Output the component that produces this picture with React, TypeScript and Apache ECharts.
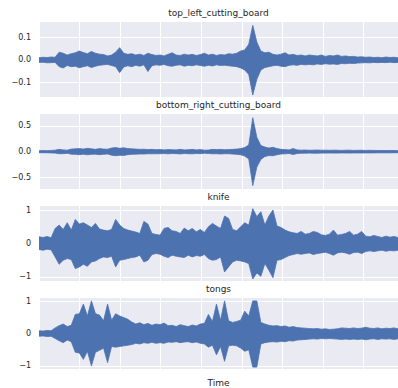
import React, { useEffect, useRef } from "react";
import * as echarts from "echarts";

const titles = ["top_left_cutting_board", "bottom_right_cutting_board", "knife", "tongs"];
const xLabel = "Time";

// envelope of each waveform (upper / lower peaks per ~4px column)
const tlcbUpper = [0.010,0.012,0.011,0.013,0.012,0.035,0.030,0.022,0.028,0.032,0.040,0.033,0.028,0.038,0.030,0.026,0.024,0.018,0.022,0.035,0.055,0.030,0.025,0.028,0.022,0.026,0.020,0.030,0.024,0.020,0.022,0.018,0.025,0.032,0.022,0.020,0.026,0.022,0.025,0.020,0.024,0.030,0.022,0.026,0.020,0.024,0.022,0.028,0.026,0.030,0.040,0.045,0.070,0.155,0.080,0.040,0.032,0.035,0.025,0.022,0.026,0.032,0.022,0.025,0.020,0.022,0.018,0.022,0.020,0.018,0.022,0.016,0.020,0.018,0.022,0.016,0.018,0.015,0.016,0.013,0.014,0.012,0.013,0.011,0.012,0.010,0.013,0.011,0.012,0.010];
const tlcbLower = [-0.011,-0.010,-0.013,-0.012,-0.011,-0.030,-0.036,-0.025,-0.030,-0.028,-0.035,-0.030,-0.026,-0.034,-0.028,-0.024,-0.022,-0.020,-0.025,-0.030,-0.057,-0.032,-0.026,-0.030,-0.024,-0.028,-0.022,-0.052,-0.026,-0.022,-0.024,-0.020,-0.026,-0.028,-0.024,-0.022,-0.028,-0.024,-0.026,-0.022,-0.025,-0.028,-0.024,-0.027,-0.022,-0.025,-0.024,-0.026,-0.028,-0.030,-0.036,-0.045,-0.065,-0.157,-0.087,-0.045,-0.034,-0.030,-0.026,-0.024,-0.028,-0.030,-0.024,-0.022,-0.024,-0.020,-0.022,-0.020,-0.022,-0.018,-0.020,-0.017,-0.019,-0.018,-0.020,-0.016,-0.017,-0.015,-0.016,-0.014,-0.013,-0.012,-0.013,-0.011,-0.012,-0.011,-0.012,-0.010,-0.012,-0.011];

const brcbUpper = [0.020,0.022,0.020,0.025,0.030,0.045,0.035,0.030,0.050,0.055,0.060,0.050,0.065,0.055,0.045,0.060,0.050,0.048,0.070,0.080,0.065,0.075,0.060,0.055,0.050,0.045,0.048,0.040,0.045,0.038,0.042,0.035,0.040,0.038,0.035,0.045,0.035,0.038,0.045,0.035,0.040,0.030,0.032,0.045,0.040,0.045,0.038,0.042,0.045,0.050,0.060,0.080,0.130,0.660,0.280,0.120,0.090,0.070,0.085,0.060,0.045,0.040,0.035,0.060,0.035,0.030,0.032,0.028,0.030,0.032,0.028,0.030,0.026,0.030,0.028,0.025,0.028,0.030,0.025,0.026,0.028,0.024,0.026,0.025,0.022,0.024,0.022,0.024,0.022,0.020];
const brcbLower = [-0.020,-0.020,-0.022,-0.024,-0.028,-0.040,-0.038,-0.032,-0.048,-0.052,-0.058,-0.048,-0.060,-0.052,-0.048,-0.058,-0.050,-0.045,-0.068,-0.078,-0.070,-0.072,-0.058,-0.052,-0.048,-0.045,-0.046,-0.040,-0.042,-0.040,-0.040,-0.036,-0.042,-0.036,-0.038,-0.044,-0.036,-0.040,-0.042,-0.036,-0.038,-0.030,-0.034,-0.042,-0.040,-0.044,-0.040,-0.040,-0.046,-0.052,-0.060,-0.085,-0.140,-0.660,-0.300,-0.150,-0.095,-0.075,-0.080,-0.060,-0.045,-0.042,-0.036,-0.055,-0.036,-0.030,-0.030,-0.028,-0.030,-0.030,-0.028,-0.028,-0.026,-0.028,-0.028,-0.025,-0.026,-0.028,-0.025,-0.025,-0.026,-0.024,-0.025,-0.024,-0.022,-0.023,-0.022,-0.023,-0.021,-0.020];

const knifeUpper = [0.20,0.18,0.21,0.17,0.45,0.55,0.42,0.62,0.40,0.72,0.58,0.62,0.55,0.48,0.60,0.43,0.40,0.38,0.42,0.72,0.55,0.45,0.40,0.37,0.34,0.30,0.66,0.58,0.30,0.27,0.25,0.45,0.48,0.38,0.36,0.30,0.46,0.38,0.45,0.35,0.42,0.33,0.50,0.60,0.52,0.45,0.82,0.75,0.42,0.38,0.50,0.62,0.55,1.04,0.80,0.95,0.55,0.82,1.00,0.52,0.48,0.40,0.35,0.32,0.30,0.36,0.28,0.30,0.36,0.33,0.26,0.24,0.28,0.40,0.25,0.27,0.30,0.36,0.25,0.28,0.36,0.22,0.20,0.24,0.21,0.18,0.22,0.19,0.21,0.18];
const knifeLower = [-0.18,-0.20,-0.17,-0.19,-0.40,-0.62,-0.50,-0.45,-0.48,-0.75,-0.70,-0.62,-0.68,-0.55,-0.52,-0.45,-0.40,-0.42,-0.38,-0.70,-0.50,-0.48,-0.45,-0.42,-0.40,-0.35,-0.55,-0.50,-0.33,-0.30,-0.32,-0.38,-0.42,-0.35,-0.38,-0.40,-0.42,-0.35,-0.40,-0.36,-0.38,-0.33,-0.45,-0.50,-0.48,-0.40,-0.85,-0.70,-0.55,-0.50,-0.52,-0.55,-0.60,-1.06,-0.88,-0.98,-0.60,-0.80,-1.02,-0.50,-0.48,-0.42,-0.36,-0.33,-0.30,-0.32,-0.30,-0.28,-0.33,-0.30,-0.28,-0.26,-0.30,-0.35,-0.28,-0.26,-0.28,-0.32,-0.27,-0.26,-0.30,-0.24,-0.22,-0.24,-0.22,-0.20,-0.23,-0.21,-0.22,-0.20];

const tongsUpper = [0.09,0.08,0.10,0.09,0.18,0.25,0.30,0.22,0.26,0.60,0.62,0.92,0.55,1.02,0.62,0.58,0.40,0.92,0.42,0.62,0.55,0.50,0.45,0.36,0.30,0.34,0.28,0.32,0.26,0.30,0.28,0.33,0.25,0.26,0.22,0.28,0.25,0.22,0.27,0.24,0.30,0.32,0.60,0.38,0.92,0.42,1.02,0.40,0.35,0.38,0.42,0.70,0.55,1.02,1.02,0.35,0.30,0.26,0.24,0.25,0.22,0.24,0.20,0.22,0.19,0.18,0.17,0.16,0.15,0.16,0.14,0.15,0.13,0.14,0.15,0.18,0.17,0.16,0.18,0.16,0.17,0.20,0.17,0.16,0.18,0.15,0.17,0.16,0.18,0.15];
const tongsLower = [-0.08,-0.07,-0.09,-0.08,-0.15,-0.22,-0.28,-0.20,-0.25,-0.58,-0.60,-0.80,-0.55,-1.00,-0.58,-0.52,-0.45,-0.90,-0.40,-0.42,-0.40,-0.38,-0.36,-0.34,-0.30,-0.32,-0.28,-0.30,-0.27,-0.30,-0.28,-0.30,-0.26,-0.27,-0.25,-0.28,-0.26,-0.25,-0.28,-0.26,-0.30,-0.32,-0.42,-0.36,-0.66,-0.40,-0.86,-0.38,-0.36,-0.38,-0.45,-0.55,-0.50,-1.04,-1.04,-0.32,-0.28,-0.26,-0.25,-0.26,-0.24,-0.25,-0.22,-0.23,-0.20,-0.19,-0.18,-0.17,-0.16,-0.17,-0.15,-0.16,-0.15,-0.16,-0.17,-0.18,-0.17,-0.18,-0.17,-0.18,-0.17,-0.19,-0.17,-0.16,-0.18,-0.16,-0.17,-0.16,-0.18,-0.16];

const uppers = [tlcbUpper, brcbUpper, knifeUpper, tongsUpper];
const lowers = [tlcbLower, brcbLower, knifeLower, tongsLower];

const yTicks = [[-0.1, 0, 0.1], [-0.5, 0, 0.5], [-1, 0, 1], [-1, 0, 1]];
const yMins = [-0.166, -0.726, -1.12, -1.10];
const yMaxs = [0.170, 0.733, 1.12, 1.11];
const yDecimals = [1, 1, 0, 0];

const gridTops = [22, 114, 206, 298];
const GRID_H = 75;
const WAVE = "#4C72B0";
const TEXT = "#262626";
const FONT = "DejaVu Sans";

export default function App() {
  const ref = useRef<HTMLDivElement>(null);
  useEffect(() => {
    if (!ref.current) return;
    const chart = echarts.init(ref.current, undefined, { renderer: "svg" });
    const n = uppers[0].length;
    const xMax = n - 1;
    const xInterval = (40.55 * xMax) / 359;

    const grids = gridTops.map((t) => ({
      left: 39,
      right: 0,
      top: t,
      height: GRID_H,
      show: true,
      backgroundColor: "#EAEAF2",
      borderWidth: 0,
    }));

    const xAxes = gridTops.map((_, k) => ({
      gridIndex: k,
      type: "value",
      min: 0,
      max: xMax,
      interval: xInterval,
      axisLine: { show: false },
      axisTick: { show: false },
      axisLabel: { show: false },
      splitLine: { show: true, lineStyle: { color: "#ffffff", width: 1 } },
      name: k === 3 ? xLabel : "",
      nameLocation: "middle",
      nameGap: 9,
      nameTextStyle: { fontSize: 9, color: TEXT, fontFamily: FONT },
    }));

    const yAxes = gridTops.map((_, k) => ({
      gridIndex: k,
      type: "value",
      min: yMins[k],
      max: yMaxs[k],
      axisLine: { show: false },
      axisTick: { show: false, customValues: yTicks[k] },
      axisLabel: {
        customValues: yTicks[k],
        fontSize: 8,
        color: TEXT,
        fontFamily: FONT,
        margin: 8,
        formatter: (v: number) => (v < 0 ? "\u2212" : "") + Math.abs(v).toFixed(yDecimals[k]),
      },
      splitLine: { show: true, lineStyle: { color: "#ffffff", width: 1 } },
    }));

    const series: any[] = [];
    gridTops.forEach((_, k) => {
      // the upper area reaches a hair below zero so the two halves meet without a seam
      const overlap = -(yMaxs[k] - yMins[k]) * 0.012;
      [
        { arr: uppers[k], origin: overlap as any },
        { arr: lowers[k], origin: 0 as any },
      ].forEach(({ arr, origin }) => {
        series.push({
          type: "line",
          xAxisIndex: k,
          yAxisIndex: k,
          data: arr.map((v, i) => [i, v]),
          showSymbol: false,
          symbol: "none",
          lineStyle: { color: WAVE, width: 0.8 },
          areaStyle: { color: WAVE, opacity: 1, origin },
          silent: true,
        });
      });
    });

    const graphic = titles.map((t, k) => ({
      type: "text",
      x: 218.5,
      y: gridTops[k] - 9,
      style: {
        text: t,
        fontSize: 9,
        fontFamily: FONT,
        fill: TEXT,
        align: "center",
        verticalAlign: "middle",
      },
    }));

    chart.setOption({
      animation: false,
      backgroundColor: "#ffffff",
      grid: grids,
      xAxis: xAxes,
      yAxis: yAxes,
      series,
      graphic,
    });
    return () => chart.dispose();
  }, []);
  return (
    <div
      ref={ref}
      style={{ position: "absolute", left: 0, top: 0, width: 398, height: 388 }}
    />
  );
}
